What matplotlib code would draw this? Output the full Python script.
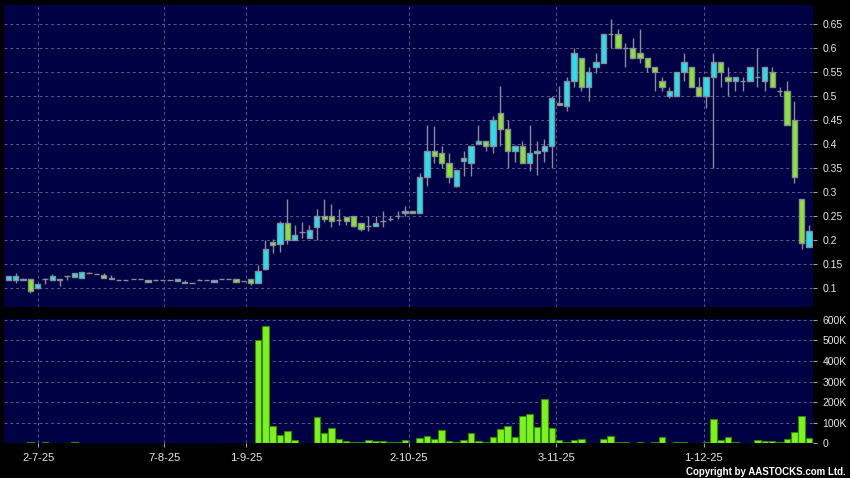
import numpy as np
import matplotlib
matplotlib.use('Agg')
import matplotlib.pyplot as plt
from matplotlib.ticker import FuncFormatter

plt.rcParams['font.family'] = ['Liberation Sans', 'DejaVu Sans']

# daily OHLC, one entry per trading day with a trade
opens = [0.117, 0.118, 0.120, 0.119, 0.100, 0.119, 0.118, 0.119, 0.125, 0.124,
         0.122, 0.131, 0.129, 0.127, 0.122, 0.118, 0.117, 0.119, 0.120, 0.117,
         0.117, 0.117, 0.117, 0.115, 0.112, 0.110, 0.117, 0.117, 0.113, 0.119,
         0.119, 0.119, 0.115, 0.119, 0.110, 0.141, 0.196, 0.192, 0.235, 0.200,
         0.218, 0.205, 0.228, 0.250, 0.250, 0.243, 0.248, 0.250, 0.235, 0.230,
         0.230, 0.241, 0.245, 0.251, 0.256, 0.260, 0.256, 0.331, 0.386, 0.381,
         0.360, 0.314, 0.365, 0.360, 0.400, 0.406, 0.396, 0.465, 0.431, 0.385,
         0.396, 0.360, 0.381, 0.385, 0.396, 0.485, 0.480, 0.531, 0.579, 0.520,
         0.560, 0.570, 0.629, 0.629, 0.600, 0.600, 0.590, 0.579, 0.560, 0.531,
         0.500, 0.500, 0.550, 0.560, 0.520, 0.500, 0.540, 0.571, 0.540, 0.531,
         0.531, 0.531, 0.540, 0.531, 0.550, 0.510, 0.510, 0.450, 0.285, 0.185]
highs = [0.125, 0.131, 0.122, 0.119, 0.109, 0.121, 0.129, 0.119, 0.125, 0.131,
         0.133, 0.133, 0.129, 0.131, 0.127, 0.118, 0.117, 0.119, 0.120, 0.117,
         0.117, 0.117, 0.117, 0.119, 0.117, 0.110, 0.119, 0.117, 0.117, 0.119,
         0.119, 0.119, 0.115, 0.119, 0.148, 0.200, 0.202, 0.240, 0.285, 0.232,
         0.238, 0.232, 0.265, 0.286, 0.275, 0.265, 0.248, 0.250, 0.235, 0.251,
         0.250, 0.261, 0.251, 0.261, 0.271, 0.260, 0.340, 0.440, 0.437, 0.396,
         0.381, 0.346, 0.386, 0.396, 0.440, 0.406, 0.458, 0.521, 0.451, 0.399,
         0.407, 0.440, 0.407, 0.411, 0.501, 0.521, 0.541, 0.600, 0.579, 0.560,
         0.591, 0.629, 0.660, 0.640, 0.610, 0.621, 0.640, 0.579, 0.560, 0.541,
         0.520, 0.550, 0.590, 0.560, 0.541, 0.540, 0.590, 0.571, 0.560, 0.540,
         0.540, 0.560, 0.600, 0.560, 0.560, 0.520, 0.531, 0.490, 0.285, 0.231]
lows = [0.117, 0.110, 0.117, 0.091, 0.100, 0.108, 0.118, 0.105, 0.118, 0.124,
        0.122, 0.131, 0.129, 0.122, 0.120, 0.118, 0.117, 0.119, 0.120, 0.114,
        0.117, 0.117, 0.117, 0.115, 0.110, 0.110, 0.117, 0.117, 0.113, 0.119,
        0.119, 0.114, 0.115, 0.106, 0.110, 0.137, 0.174, 0.176, 0.192, 0.200,
        0.205, 0.205, 0.201, 0.239, 0.227, 0.232, 0.232, 0.227, 0.220, 0.220,
        0.230, 0.228, 0.241, 0.245, 0.250, 0.256, 0.256, 0.313, 0.360, 0.350,
        0.320, 0.311, 0.334, 0.334, 0.400, 0.385, 0.381, 0.396, 0.350, 0.364,
        0.360, 0.345, 0.335, 0.364, 0.350, 0.481, 0.470, 0.520, 0.510, 0.489,
        0.549, 0.570, 0.600, 0.600, 0.560, 0.579, 0.570, 0.550, 0.510, 0.510,
        0.496, 0.500, 0.531, 0.520, 0.500, 0.475, 0.350, 0.520, 0.500, 0.510,
        0.510, 0.531, 0.520, 0.510, 0.520, 0.500, 0.440, 0.320, 0.181, 0.185]
closes = [0.125, 0.125, 0.118, 0.095, 0.109, 0.119, 0.125, 0.117, 0.125, 0.131,
          0.133, 0.131, 0.129, 0.122, 0.120, 0.118, 0.117, 0.119, 0.120, 0.114,
          0.117, 0.117, 0.117, 0.119, 0.110, 0.110, 0.117, 0.117, 0.117, 0.119,
          0.119, 0.114, 0.115, 0.110, 0.135, 0.181, 0.191, 0.235, 0.200, 0.210,
          0.218, 0.222, 0.251, 0.245, 0.241, 0.243, 0.241, 0.230, 0.224, 0.230,
          0.236, 0.241, 0.245, 0.251, 0.260, 0.256, 0.331, 0.386, 0.375, 0.360,
          0.331, 0.346, 0.371, 0.396, 0.407, 0.396, 0.451, 0.431, 0.385, 0.396,
          0.360, 0.381, 0.386, 0.396, 0.496, 0.481, 0.531, 0.590, 0.520, 0.550,
          0.571, 0.629, 0.629, 0.600, 0.600, 0.579, 0.579, 0.560, 0.550, 0.520,
          0.510, 0.550, 0.571, 0.520, 0.500, 0.540, 0.571, 0.550, 0.531, 0.540,
          0.531, 0.560, 0.540, 0.560, 0.520, 0.510, 0.440, 0.331, 0.194, 0.219]
# daily volume in thousands of shares
volumes_k = [1, 2, 1, 6, 1, 5, 1, 1, 1, 5,
             1, 1, 1, 1, 1, 1, 1, 1, 1, 1,
             1, 1, 1, 1, 1, 1, 1, 1, 1, 1,
             1, 1, 1, 1, 503, 571, 84, 39, 61, 15,
             2, 2, 126, 52, 74, 19, 10, 8, 5, 16,
             10, 11, 6, 5, 15, 2, 26, 35, 23, 65,
             10, 6, 18, 48, 13, 5, 31, 71, 84, 32,
             134, 144, 81, 216, 73, 18, 6, 15, 23, 3,
             1, 21, 35, 5, 6, 2, 5, 2, 5, 31,
             1, 5, 8, 3, 3, 8, 119, 16, 32, 8,
             1, 3, 16, 13, 11, 5, 19, 53, 131, 24]

tick_pos = [4.1, 21.2, 32.4, 54.5, 74.6, 94.7]
tick_labels = ['2-7-25', '7-8-25', '1-9-25', '2-10-25', '3-11-25', '1-12-25']
price_ticks = [0.1, 0.15, 0.2, 0.25, 0.3, 0.35, 0.4, 0.45, 0.5, 0.55, 0.6, 0.65]
vol_ticks = [0, 100000, 200000, 300000, 400000, 500000, 600000]

NAVY = '#000044'
GRID = '#5a5a8e'
UP = '#1ee4f2'
DOWN = '#86ea26'
EDGE = '#8c8c96'
VOL = '#7ef21c'
VOL_EDGE = '#2f8a00'
TEXT = '#e8e8e8'

W, H = 850, 478
fig = plt.figure(figsize=(W / 100, H / 100), dpi=100, facecolor='black')
ax = fig.add_axes([4 / W, 1 - 306.5 / H, 809.3 / W, 301.5 / H])
axv = fig.add_axes([4 / W, 1 - 443.3 / H, 809.3 / W, 124.8 / H], sharex=ax)

o = np.array(opens)
c = np.array(closes)
x = np.arange(len(o))
body_col = np.where(c > o, UP, np.where(c < o, DOWN, EDGE))

ax.vlines(x, lows, highs, color=EDGE, linewidth=1, zorder=2)
ax.bar(x, np.abs(c - o), bottom=np.minimum(o, c), width=0.72,
       color=body_col, edgecolor=EDGE, linewidth=1, zorder=3)

axv.bar(x, np.array(volumes_k) * 1000, width=0.9, color=VOL,
        edgecolor=VOL_EDGE, linewidth=0.8, zorder=3)

for a in (ax, axv):
    a.set_facecolor(NAVY)
    for s in a.spines.values():
        s.set_visible(False)
    a.yaxis.tick_right()
    a.tick_params(axis='y', labelcolor=TEXT, color='#a0a0a0', labelsize=7.5,
                  length=3.2, width=0.8, pad=3.5)
    a.grid(True, color=GRID, linestyle=(0, (3, 3)), linewidth=0.7, zorder=0)
    a.set_axisbelow(True)

ax.set_xlim(-0.59, 109.6)
ax.set_ylim(0.062, 0.690)
ax.set_yticks(price_ticks)
ax.yaxis.set_major_formatter(FuncFormatter(lambda v, _: f'{v:g}'))
ax.tick_params(axis='x', length=0, labelbottom=False)

axv.set_ylim(0, 607000)
axv.set_yticks(vol_ticks)
axv.yaxis.set_major_formatter(
    FuncFormatter(lambda v, _: '0' if v == 0 else f'{int(round(v / 1000))}K'))
axv.set_xticks(tick_pos, tick_labels)
axv.tick_params(axis='x', labelcolor=TEXT, color='#a0a0a0', labelsize=8,
                length=3, width=0.8, pad=4)

fig.text(846 / W, 1 - 475 / H, 'Copyright by AASTOCKS.com Ltd.', ha='right',
         va='baseline', color='white', fontsize=7, fontweight='bold')

fig.savefig('out.png', dpi=100, facecolor='black')
